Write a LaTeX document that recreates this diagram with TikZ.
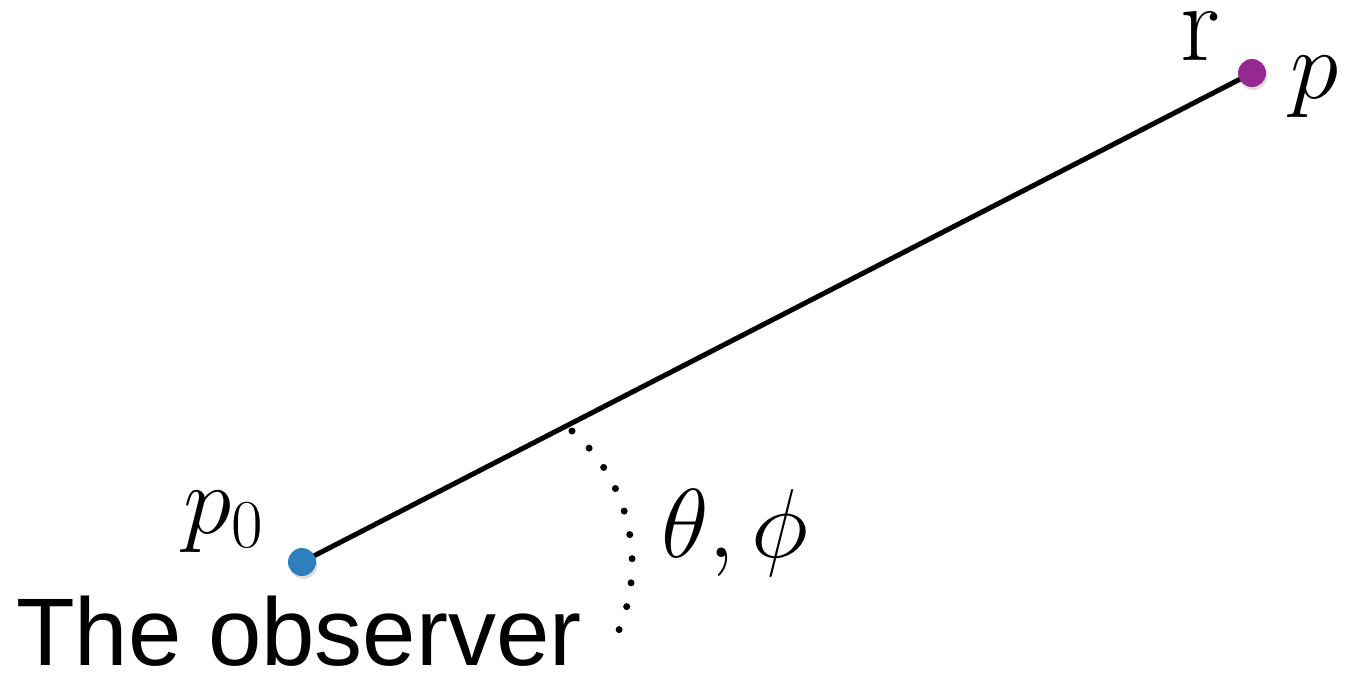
\RequirePackage{fix-cm}
\documentclass[tikz,border=0pt]{standalone}
\usepackage{fontspec}
\newfontfamily\obsfont{Liberation Sans}
\usetikzlibrary{shadows}
\definecolor{obsblue}{HTML}{2F7FBD}
\definecolor{ptpurple}{HTML}{952991}
\tikzset{
  ptdot/.style={circle, minimum size=28pt, inner sep=0pt,
    drop shadow={opacity=0.25, shadow xshift=1.5pt, shadow yshift=-3pt}},
  mathlbl/.style={inner sep=0pt, font=\fontsize{98}{110}\selectfont},
  ray/.style={line width=5pt, black},
  angarc/.style={line width=7pt, line cap=round, dash pattern=on 0pt off 24.2pt}
}
\begin{document}
\begin{tikzpicture}[x=1pt, y=-1pt]
  \useasboundingbox (0,0) rectangle (1356,673);
  \coordinate (p0c) at (302,562);
  \coordinate (pc) at (1252,73);
  \coordinate (arcstart) at (572,431);
  \draw[ray] (p0c) -- (pc);
  \node[ptdot, fill=obsblue] (p0dot) at (p0c) {};
  \node[ptdot, fill=ptpurple] (pdot) at (pc) {};
  \draw[angarc] (arcstart) arc[start angle=-48.9, end angle=22.4, radius=175.5];
  \node[mathlbl, anchor=base west] (p0lbl) at (183,533) {$p_0$};
  \node[mathlbl, anchor=base west] (anglbl) at (661,557) {$\theta,\phi$};
  \node[mathlbl, anchor=base west] (plbl) at (1290,98) {$p$};
  \node[inner sep=0pt, anchor=base west, font=\fontsize{112}{120}\selectfont] (rlbl) at (1180,60) {$\mathrm{r}$};
  \node[inner sep=0pt, anchor=base west, font=\obsfont\fontsize{96}{100}\selectfont] (obs) at (16,665) {The observer};
\end{tikzpicture}
\end{document}
